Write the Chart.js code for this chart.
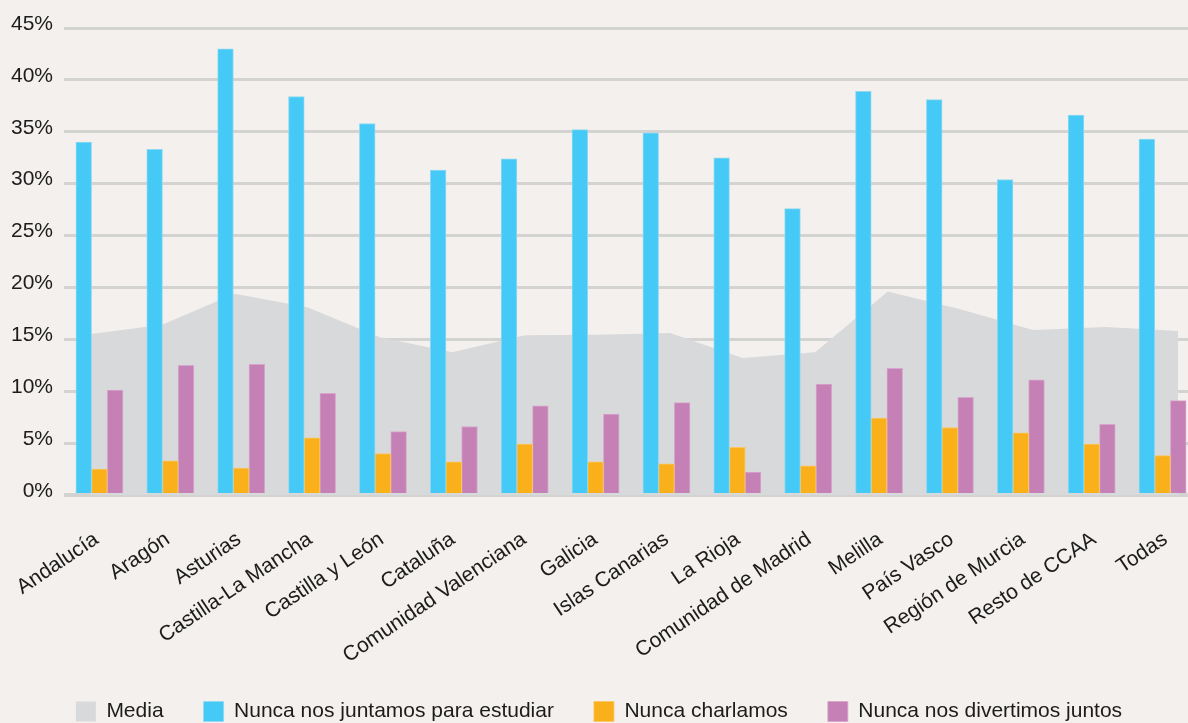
<!DOCTYPE html>
<html>
<head>
<meta charset="utf-8">
<script src="https://cdn.jsdelivr.net/npm/chart.js@4/dist/chart.umd.min.js"></script>
<style>
  html, body { margin: 0; padding: 0; background: #f3f0ed; overflow: hidden; }
  #wrap { width: 1188px; height: 723px; overflow: hidden; position: relative; }
  #box { width: 1198px; height: 732px; position: absolute; left: 0; top: 0; }
</style>
</head>
<body>
<div id="wrap"><div id="box"><canvas id="c"></canvas></div></div>
<script>
const categories = ["Andalucía","Aragón","Asturias","Castilla-La Mancha","Castilla y León","Cataluña","Comunidad Valenciana","Galicia","Islas Canarias","La Rioja","Comunidad de Madrid","Melilla","País Vasco","Región de Murcia","Resto de CCAA","Todas"];
const media      = [15.5, 16.4, 19.4, 18.1, 15.2, 13.75, 15.4, 15.45, 15.6, 13.2, 13.75, 19.6, 17.9, 15.9, 16.2, 15.8];
const estudiar   = [34.0, 33.3, 43.0, 38.4, 35.8, 31.3, 32.4, 35.2, 34.9, 32.5, 27.6, 38.9, 38.1, 30.4, 36.6, 34.3];
const charlamos  = [2.5, 3.3, 2.6, 5.5, 4.0, 3.2, 4.9, 3.2, 3.0, 4.6, 2.8, 7.4, 6.5, 6.0, 4.9, 3.8];
const divertimos = [10.1, 12.5, 12.6, 9.8, 6.1, 6.6, 8.6, 7.8, 8.9, 2.2, 10.7, 12.2, 9.4, 11.1, 6.8, 9.1];
const yTicks = [0, 5, 10, 15, 20, 25, 30, 35, 40, 45];
const seriesNames = ["Media", "Nunca nos juntamos para estudiar", "Nunca charlamos", "Nunca nos divertimos juntos"];

const FONT = "'Liberation Sans', Arial, Helvetica, sans-serif";
const GRID = '#d3d3d1';
const TEXT = '#1c1c1c';
const BAR_W = 15.7;
const SHIFT = 0.2215; // one bar width in category units

const toPoints = (arr) => arr.map((v, i) => ({ x: i, y: v }));
const hiddenAxis = (min, max) => ({
  type: 'linear', position: 'bottom', min, max, offset: false,
  grid: { display: false, drawTicks: false, offset: false },
  border: { display: false },
  ticks: { display: false },
  afterFit: (s) => { s.height = 0; s.paddingLeft = 0; s.paddingRight = 0; }
});
const barStyle = (bg, edge) => ({
  backgroundColor: bg, borderColor: edge,
  borderWidth: { top: 1, left: 1, right: 1, bottom: 0 }
});

new Chart(document.getElementById('c'), {
  data: {
    labels: categories,
    datasets: [
      {
        type: 'line', label: seriesNames[0], order: 5,
        data: toPoints(media),
        xAxisID: 'x2',
        borderWidth: 0, borderColor: 'rgba(0,0,0,0)', pointRadius: 0,
        backgroundColor: '#d8d9db', fill: 'origin', tension: 0
      },
      Object.assign({ type: 'bar', label: seriesNames[1], data: toPoints(estudiar), order: 1, xAxisID: 'xb' },
        barStyle('#45c9f6', '#8fd8f2')),
      Object.assign({ type: 'bar', label: seriesNames[2], data: toPoints(charlamos), order: 1, xAxisID: 'xo' },
        barStyle('#fab01a', '#f9c65e')),
      Object.assign({ type: 'bar', label: seriesNames[3], data: toPoints(divertimos), order: 1, xAxisID: 'xp' },
        barStyle('#c580b5', '#d6a6ca'))
    ]
  },
  options: {
    responsive: true,
    maintainAspectRatio: false,
    animation: false,
    devicePixelRatio: 1,
    layout: { padding: { top: 28, left: 0, right: 0, bottom: 0 } },
    datasets: { bar: { grouped: false, barThickness: BAR_W, categoryPercentage: 1, barPercentage: 1 } },
    plugins: {
      tooltip: { enabled: false },
      legend: {
        position: 'bottom',
        labels: {
          boxWidth: 20, boxHeight: 20, padding: 40,
          color: TEXT,
          font: { family: FONT, size: 21 },
          sort: (a, b) => a.datasetIndex - b.datasetIndex
        }
      }
    },
    scales: {
      xb: hiddenAxis(-0.5 + SHIFT, 15.5 + SHIFT),
      xo: hiddenAxis(-0.5, 15.5),
      xp: hiddenAxis(-0.5 - SHIFT, 15.5 - SHIFT),
      x2: hiddenAxis(-0.352, 15.275),
      x3: {
        type: 'linear', position: 'bottom',
        min: -0.4565, max: 15.457, offset: false,
        grid: { display: false, drawTicks: false },
        border: { display: false },
        afterBuildTicks: (s) => { s.ticks = categories.map((_, i) => ({ value: i })); },
        afterFit: (s) => { s.height = 166; s.paddingLeft = 0; s.paddingRight = 0; },
        ticks: {
          autoSkip: false, minRotation: 34, maxRotation: 34, padding: 32,
          color: TEXT,
          font: { family: FONT, size: 21 },
          callback: (v) => categories[v]
        }
      },
      y: {
        min: 0, max: 45,
        afterBuildTicks: (s) => { s.ticks = yTicks.map(v => ({ value: v })); },
        afterFit: (s) => { s.width = 64; },
        grid: { color: GRID, lineWidth: (c) => c.tick && c.tick.value === 0 ? 4 : 3, drawTicks: false },
        border: { display: false },
        ticks: {
          padding: 11, labelOffset: -4,
          color: TEXT,
          font: { family: FONT, size: 21 },
          callback: (v) => v + '%'
        }
      }
    }
  }
});
</script>
</body>
</html>
